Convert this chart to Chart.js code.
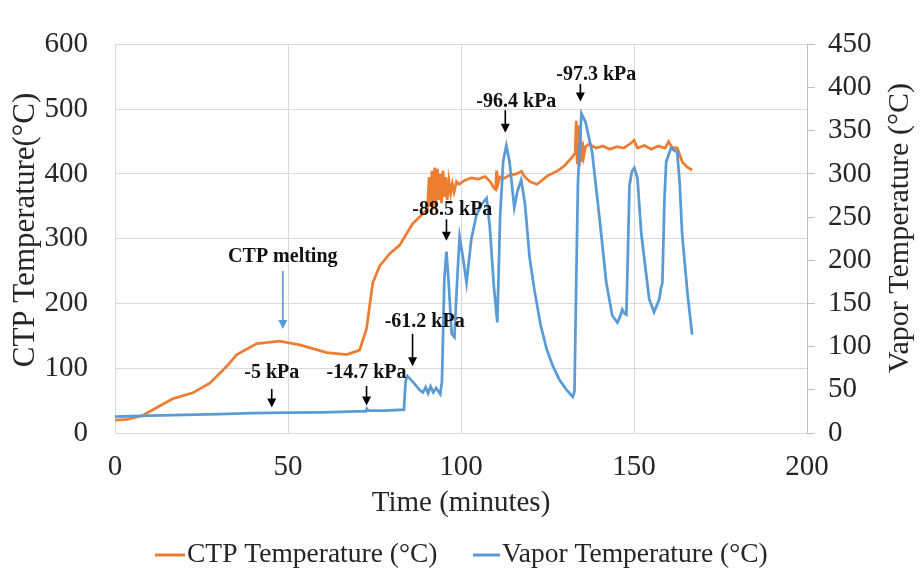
<!DOCTYPE html>
<html><head><meta charset="utf-8">
<script src="https://cdn.jsdelivr.net/npm/chart.js@4.4.1/dist/chart.umd.min.js"></script>
<style>html,body{margin:0;padding:0;background:#fff;}#wrap{width:922px;height:571px;}</style>
</head><body><div id="wrap"><canvas id="c" width="922" height="571"></canvas></div>
<script>
// ---- data ----
const ctpTime = [0,3.5,8,13,16.7,22.5,27.4,32.3,35.2,41,47.6,53.4,61.2,67,70.7,72.7,74.5,76.5,79.4,82.3,84.3,86,88.9,90.3,
  90.8,91.2,91.6,92,92.4,92.8,93.2,93.6,94,94.4,94.8,95.2,95.6,96,96.5,97,97.5,98,98.7,
  99.5,101,103,105,107,108.5,109.5,110,110.3,110.7,111.2,112,114,116,117.5,118.5,120,122,125,128,130,132,133,
  133.3,133.6,133.9,134.2,134.5,134.8,135.1,135.5,136,137,
  139,141,143,145,147,149,150,151,153,155,157,159,160,161,162.5,164,165.5,166.8];
const ctpValues = [20,21,27,42,53,62,77,103,121,138,142,136,124,121,128,161,232,258,277,290,308,323,338,345,
  395,350,405,345,410,355,408,360,400,355,405,365,395,360,390,370,385,372,388,
  384,390,394,392,396,388,378,376,405,385,395,392,398,400,404,395,388,384,397,405,413,425,432,
  482,415,475,412,465,418,450,428,442,446,
  440,443,438,442,440,447,452,440,444,438,443,440,450,441,440,418,410,406];
const vaporTime = [0,10,20,30,40,50,60,70,72.5,72.8,73.2,78,83.5,84,84.5,86.6,88,89,89.8,90.5,91.2,92,92.8,94,94.5,95.2,95.8,96.5,97.3,98.1,98.8,99.6,100.5,101.6,103,104.5,106,107.4,108.3,109.5,110.5,111.3,112.2,113.1,114,115.4,116.3,117.4,118.5,119.8,121.2,123,124.7,126.5,128.4,130.5,132.3,132.8,133.2,133.8,134.8,136,137.9,140,142,143.7,145.2,146,146.6,147.3,147.8,148.3,148.7,149.4,150.1,151,152.1,154.4,155.8,157.3,157.8,158.2,158.8,159.3,160.7,162.5,163.2,163.9,165.5,166.8];
const vaporValues = [19,20,21,22,23,23.5,24,25,25,28,26,26,27,60,66,57,50,47,53,46,54,47,52,45,60,180,210,170,115,111,170,227,205,174,225,253,265,272,240,170,128,250,315,333,315,261,280,293,265,204,166,125,98,78,62,50,42,48,150,290,370,360,325,250,174,136,128,135,143,138,137,220,287,303,307,295,231,155,140,155,168,174,270,314,330,325,290,231,160,114];
const xTickValues = [0,50,100,150,200];
const ctpTickValues = [0,100,200,300,400,500,600];
const vaporTickValues = [0,50,100,150,200,250,300,350,400,450];
const seriesNames = ['CTP Temperature (°C)','Vapor Temperature (°C)'];
// annotations (in time / CTP-axis units)
const noteLabels = ['CTP melting','-5 kPa','-14.7 kPa','-61.2 kPa','-88.5 kPa','-96.4 kPa','-97.3 kPa'];
const noteTextX = [48.5,45.3,72.7,89.5,97.5,116,139.1];
const noteTextY = [272.7,92.4,92.4,171,344,512,553];
const noteArrowX = [48.5,45.3,72.7,86,95.8,112.8,134.5];
const noteArrowFrom = [250,68,72.7,153,330,498.5,539];
const noteArrowTo = [160.6,39.4,42.4,103,297,463.6,512];

const F = '"Liberation Serif", "Times New Roman", serif';
const ORANGE = '#ED7D31', BLUE = '#5B9BD5', TXT = '#262626';

const extras = {
  id: 'extras',
  afterDatasetsDraw(chart) {
    const {ctx} = chart; const x = chart.scales.x, y = chart.scales.y;
    ctx.save();
    for (let i = 0; i < noteLabels.length; i++) {
      const col = i === 0 ? BLUE : '#000';
      ctx.font = 'bold 20px ' + F;
      ctx.fillStyle = '#111'; ctx.textAlign = 'center'; ctx.textBaseline = 'middle';
      ctx.fillText(noteLabels[i], x.getPixelForValue(noteTextX[i]), y.getPixelForValue(noteTextY[i]));
      const ax = x.getPixelForValue(noteArrowX[i]);
      const y1 = y.getPixelForValue(noteArrowFrom[i]), y2 = y.getPixelForValue(noteArrowTo[i]);
      ctx.strokeStyle = col; ctx.fillStyle = col; ctx.lineWidth = 1.6;
      ctx.beginPath(); ctx.moveTo(ax, y1); ctx.lineTo(ax, y2 - 5); ctx.stroke();
      ctx.beginPath(); ctx.moveTo(ax - 4.5, y2 - 9); ctx.lineTo(ax + 4.5, y2 - 9); ctx.lineTo(ax, y2); ctx.closePath(); ctx.fill();
    }
    ctx.restore();
  },
  afterDraw(chart) {
    const {ctx} = chart;
    ctx.save();
    ctx.fillStyle = TXT; ctx.textAlign = 'center'; ctx.textBaseline = 'middle';
    ctx.font = '31px ' + F;
    ctx.translate(26, 230); ctx.rotate(-Math.PI / 2); ctx.fillText('CTP Temperature(°C)', 0, 0);
    ctx.setTransform(1, 0, 0, 1, 0, 0);
    ctx.font = '30px ' + F;
    ctx.translate(900, 228); ctx.rotate(-Math.PI / 2); ctx.fillText('Vapor Temperature (°C)', 0, 0);
    ctx.setTransform(1, 0, 0, 1, 0, 0);
    // legend
    const items = [[155, 185, 187, ORANGE], [473, 500, 502, BLUE]];
    ctx.font = '27.5px ' + F; ctx.textAlign = 'left';
    items.forEach((it, i) => {
      ctx.strokeStyle = it[3]; ctx.lineWidth = 3;
      ctx.beginPath(); ctx.moveTo(it[0], 555); ctx.lineTo(it[1], 555); ctx.stroke();
      ctx.fillStyle = TXT; ctx.fillText(seriesNames[i], it[2], 555);
    });
    ctx.restore();
  }
};

new Chart(document.getElementById('c'), {
  type: 'line',
  data: {
    datasets: [
      {label: seriesNames[0], data: ctpTime.map((t, i) => ({x: t, y: ctpValues[i]})), yAxisID: 'y',
       borderColor: ORANGE, backgroundColor: ORANGE, borderWidth: 2.75, pointRadius: 0, tension: 0, fill: false, order: 1},
      {label: seriesNames[1], data: vaporTime.map((t, i) => ({x: t, y: vaporValues[i]})), yAxisID: 'y2',
       borderColor: BLUE, backgroundColor: BLUE, borderWidth: 2.75, pointRadius: 0, tension: 0, fill: false, order: 0}
    ]
  },
  options: {
    responsive: false, animation: false, devicePixelRatio: 1,
    layout: {padding: {top: 37, left: 0, right: 0, bottom: 50}},
    plugins: {legend: {display: false}, tooltip: {enabled: false}},
    scales: {
      x: {type: 'linear', min: 0, max: 200,
        afterBuildTicks(s) { s.ticks = xTickValues.map(v => ({value: v})); },
        ticks: {font: {family: F, size: 29}, color: TXT, padding: 17, maxRotation: 0},
        grid: {color: '#d9d9d9', drawTicks: false}, border: {color: '#d9d9d9'},
        title: {display: true, text: 'Time (minutes)', font: {family: F, size: 29}, color: TXT, padding: {top: 0, bottom: 0}},
        afterFit(s) { s.height = 88; }},
      y: {position: 'left', min: 0, max: 600,
        afterBuildTicks(s) { s.ticks = ctpTickValues.map(v => ({value: v})); },
        ticks: {font: {family: F, size: 29}, color: TXT, padding: 27},
        grid: {color: '#d9d9d9', drawTicks: false}, border: {color: '#d9d9d9'},
        afterFit(s) { s.width = 115; }},
      y2: {position: 'right', min: 0, max: 450,
        afterBuildTicks(s) { s.ticks = vaporTickValues.map(v => ({value: v})); },
        ticks: {font: {family: F, size: 29}, color: TXT, padding: 13},
        grid: {drawOnChartArea: false, color: '#bfbfbf', tickLength: 8}, border: {color: '#bfbfbf'},
        afterFit(s) { s.width = 115; }}
    }
  },
  plugins: [extras]
});
</script></body></html>
